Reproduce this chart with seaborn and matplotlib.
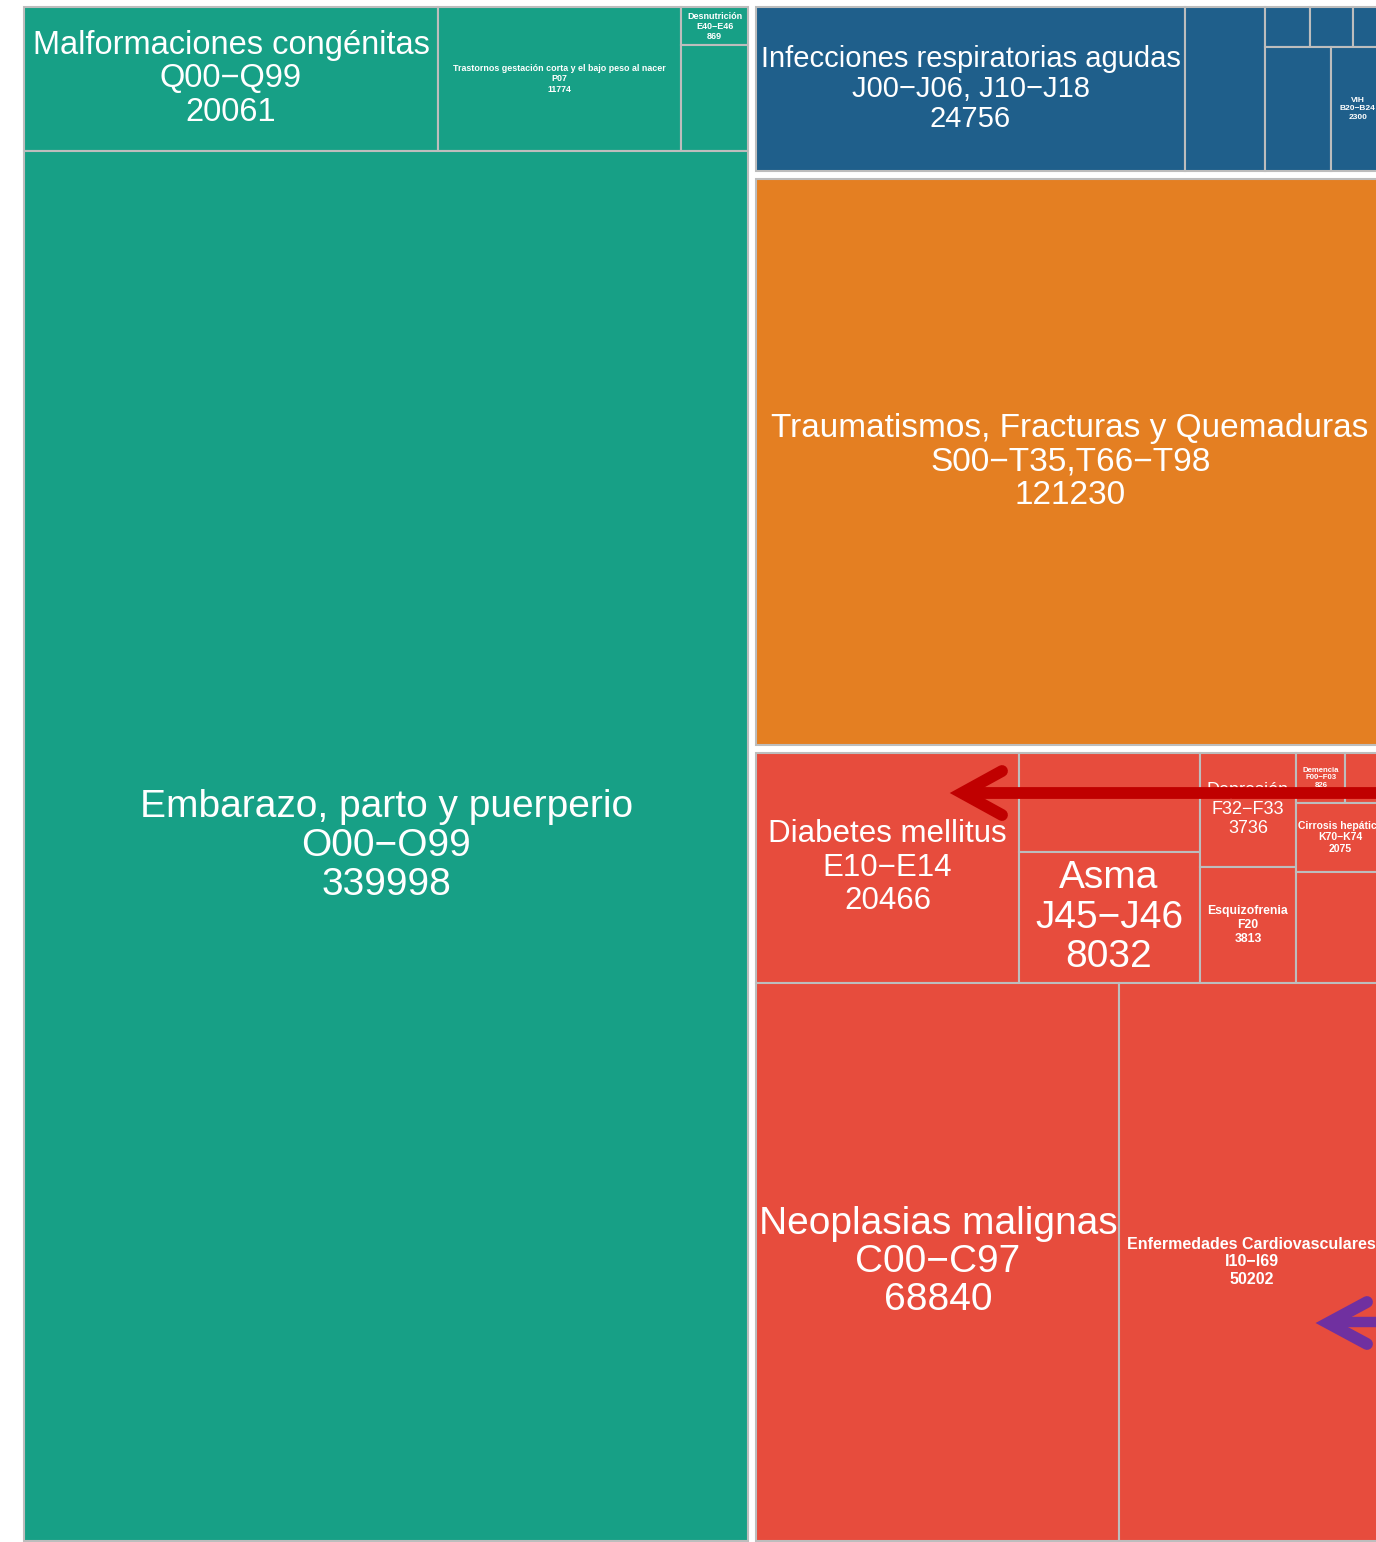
import matplotlib
matplotlib.use("Agg")
import matplotlib.pyplot as plt
import seaborn as sns

sns.set_theme(style="white")
plt.rcParams['font.family'] = ['Liberation Sans', 'DejaVu Sans']

# ---------------- data ----------------
names = [
    "Malformaciones congénitas",                              # 0
    "Trastornos gestación corta y el bajo peso al nacer",     # 1
    "Desnutrición",                                           # 2
    "",                                                       # 3
    "Embarazo, parto y puerperio",                            # 4
    "Infecciones respiratorias agudas",                       # 5
    "",                                                       # 6
    "", "", "",                                               # 7 8 9
    "",                                                       # 10
    "VIH",                                                    # 11
    "Traumatismos, Fracturas y Quemaduras",                   # 12
    "Diabetes mellitus",                                      # 13
    "",                                                       # 14
    "Asma",                                                   # 15
    "Depresión",                                              # 16
    "Esquizofrenia",                                          # 17
    "Demencia",                                               # 18
    "",                                                       # 19
    "Cirrosis hepática",                                      # 20
    "",                                                       # 21
    "Neoplasias malignas",                                    # 22
    "Enfermedades Cardiovasculares",                          # 23
]
codes = [
    "Q00−Q99", "P07", "E40−E46", "", "O00−O99",
    "J00−J06, J10−J18", "", "", "", "", "", "B20−B24",
    "S00−T35,T66−T98",
    "E10−E14", "", "J45−J46", "F32−F33", "F20", "F00−F03", "", "K70−K74", "",
    "C00−C97", "I10−I69",
]
values = [
    20061, 11774, 869, 2400, 339998,
    24756, 4645, 640, 600, 440, 2900, 2300,
    121230,
    20466, 6100, 8032, 3736, 3813, 826, 650, 2075, 3300,
    68840, 50202,
]
group_colors = {"green": "#17A086", "blue": "#1F5F8B",
                "orange": "#E47F22", "red": "#E74C3D"}

# ---------------- structure (split direction, leaves = indices) ----------------
green = ("g", "green", ("v", [("h", [0, 1, ("v", [2, 3])]), 4]))
blue = ("g", "blue", ("h", [5, 6, ("v", [("h", [7, 8, 9]), ("h", [10, 11])])]))
orange = ("g", "orange", 12)
red = ("g", "red", ("v", [
    ("h", [13, ("v", [14, 15]), ("v", [16, 17]), ("v", [("h", [18, 19]), 20, 21])]),
    ("h", [22, 23]),
]))
tree = ("h", [green, ("v", [blue, orange, red])])

# label styles: (pt, bold, linespacing)
styles = {0: (23.5, False, 1.11), 1: (6.4, True, 1.2), 2: (6.5, True, 1.15),
          4: (28, False, 1.11), 5: (21, False, 1.1), 11: (6, True, 1.25),
          12: (24, False, 1.1), 13: (22.5, False, 1.15), 15: (28, False, 1.11),
          16: (13, False, 1.15), 17: (8.8, True, 1.25), 18: (5.6, True, 1.05),
          20: (7.5, True, 1.2), 22: (28, False, 1.08), 23: (11.5, True, 1.22)}


def total(node):
    if isinstance(node, int):
        return values[node]
    if node[0] == "g":
        return total(node[2])
    return sum(total(c) for c in node[1])


GAP = 8.0
rects = []


def layout(node, x, y, w, h, color=None):
    if isinstance(node, int):
        rects.append((node, x, y, w, h, color))
        return
    if node[0] == "g":
        layout(node[2], x + GAP / 2, y + GAP / 2, w - GAP, h - GAP, group_colors[node[1]])
        return
    kind, children = node
    tot = sum(total(c) for c in children)
    pos = 0.0
    for c in children:
        f = total(c) / tot
        if kind == "h":
            layout(c, x + pos * w, y, f * w, h, color)
        else:
            layout(c, x, y + pos * h, w, f * h, color)
        pos += f


W, H = 1376, 1542
fig = plt.figure(figsize=(W / 100, H / 100), dpi=100)
ax = fig.add_axes([0, 0, 1, 1])
ax.set_xlim(0, W)
ax.set_ylim(H, 0)
ax.axis("off")

layout(tree, 20.0, 3.0, 1368.0, 1542.0)

for idx, x, y, w, h, color in rects:
    bars = ax.bar(x, h, width=w, bottom=y, align="edge", color=color,
                  edgecolor="#BDBDBD", linewidth=1.5)
    patch = bars.patches[0]
    if names[idx]:
        fs, bold, ls = styles.get(idx, (8, True, 1.2))
        t = ax.text(x + w / 2, y + h / 2, f"{names[idx]}\n{codes[idx]}\n{values[idx]}",
                    ha="center", va="center", multialignment="center",
                    color="white", fontsize=fs, linespacing=ls,
                    fontweight="bold" if bold else "normal")
        t.set_clip_path(patch)

# annotation arrows
ax.plot([1380, 965], [793, 793], color="#C00000", lw=8.5, solid_capstyle="butt", zorder=6)
ax.plot([1002, 962, 1002], [771, 793, 815], color="#C00000", lw=8.5,
        solid_capstyle="round", solid_joinstyle="miter", zorder=6)
ax.plot([1380, 1333], [1322, 1322], color="#7030A0", lw=7.5, solid_capstyle="butt", zorder=6)
ax.plot([1367, 1328, 1367], [1302, 1323, 1344], color="#7030A0", lw=8.5,
        solid_capstyle="round", solid_joinstyle="miter", zorder=6)

fig.savefig("out.png", dpi=100)
